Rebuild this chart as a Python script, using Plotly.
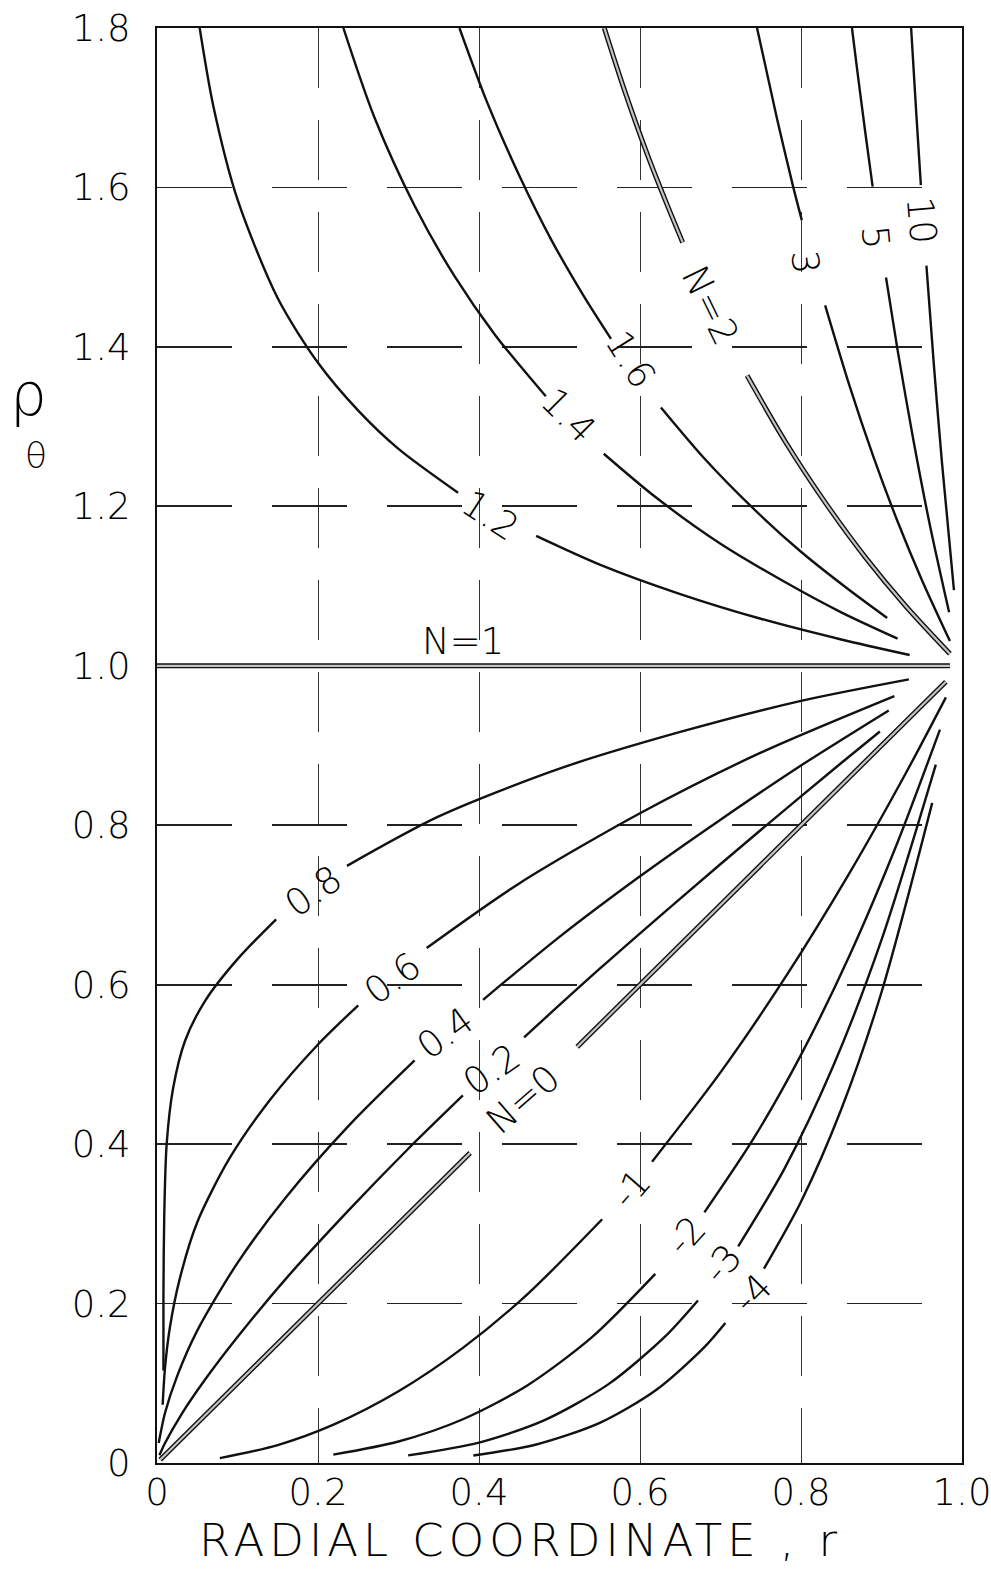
import plotly.graph_objects as go

# ---------------- axes ----------------
X_TICKS = [0, 0.2, 0.4, 0.6, 0.8, 1.0]
X_TICK_TEXT = ["0", "0.2", "0.4", "0.6", "0.8", "1.0"]
Y_TICKS = [0, 0.2, 0.4, 0.6, 0.8, 1.0, 1.2, 1.4, 1.6, 1.8]
Y_TICK_TEXT = ["0", "0.2", "0.4", "0.6", "0.8", "1.0", "1.2", "1.4", "1.6", "1.8"]
X_TITLE = "RADIAL COORDINATE , r"
Y_TITLE_MAIN = "ρ"
Y_TITLE_SUB = "θ"

# ---------------- curves (r, rho_theta), None = break for label ----------------
R_N10 = [0.9368, 0.943, 0.9489, None, 0.9558, 0.965, 0.975, 0.990]
P_N10 = [1.800, 1.696, 1.603, None, 1.502, 1.378, 1.256, 1.095]

R_N5 = [0.8633, 0.870, 0.880, 0.889, None, 0.9056, 0.920, 0.940, 0.960, 0.984]
P_N5 = [1.800, 1.746, 1.668, 1.601, None, 1.487, 1.396, 1.281, 1.177, 1.067]

R_N3 = [0.7454, 0.770, 0.790, 0.801, None, 0.830, 0.860, 0.890, 0.920, 0.950, 0.985]
P_N3 = [1.800, 1.687, 1.602, 1.559, None, 1.452, 1.352, 1.262, 1.181, 1.108, 1.031]

R_N2 = [0.5556, 0.580, 0.610, 0.635, 0.653, None, 0.733, 0.780, 0.830, 0.880, 0.930, 0.985]
P_N2 = [1.800, 1.724, 1.639, 1.575, 1.531, None, 1.364, 1.282, 1.205, 1.136, 1.075, 1.015]

R_N16 = [0.3757, 0.410, 0.450, 0.490, 0.530, 0.564, None, 0.626, 0.680, 0.740, 0.800, 0.860, 0.907]
P_N16 = [1.800, 1.707, 1.615, 1.534, 1.464, 1.410, None, 1.324, 1.260, 1.198, 1.143, 1.095, 1.060]

R_N14 = [0.2315, 0.270, 0.320, 0.370, 0.420, 0.483, None, 0.555, 0.620, 0.700, 0.780, 0.850, 0.920]
P_N14 = [1.800, 1.688, 1.577, 1.488, 1.415, 1.338, None, 1.266, 1.211, 1.153, 1.105, 1.067, 1.034]

R_N12 = [0.053, 0.070, 0.100, 0.150, 0.200, 0.250, 0.300, 0.374, None, 0.471, 0.550, 0.650, 0.750, 0.850, 0.935]
P_N12 = [1.800, 1.702, 1.585, 1.461, 1.380, 1.320, 1.272, 1.217, None, 1.163, 1.127, 1.090, 1.059, 1.033, 1.0135]

R_N1 = [0.0, 0.985]
P_N1 = [1.0, 1.0]

R_N08 = [0.008, 0.008, 0.009, 0.012, 0.020, 0.035, 0.060, 0.100, 0.148, None, 0.236, 0.350, 0.500, 0.650, 0.800, 0.934]
P_N08 = [0.116, 0.210, 0.310, 0.400, 0.470, 0.530, 0.580, 0.632, 0.682, None, 0.749, 0.811, 0.871, 0.917, 0.956, 0.983]

R_N06 = [0.007, 0.010, 0.016, 0.028, 0.050, 0.090, 0.140, 0.200, 0.250, None, 0.335, 0.450, 0.600, 0.750, 0.916]
P_N06 = [0.073, 0.120, 0.170, 0.230, 0.302, 0.382, 0.455, 0.525, 0.574, None, 0.646, 0.727, 0.815, 0.891, 0.962]

R_N04 = [0.0021, 0.010, 0.025, 0.050, 0.100, 0.160, 0.240, 0.320, None, 0.405, 0.500, 0.600, 0.700, 0.800, 0.909]
P_N04 = [0.025, 0.063, 0.109, 0.166, 0.251, 0.333, 0.425, 0.505, None, 0.581, 0.660, 0.736, 0.807, 0.875, 0.944]

R_N02 = [0.003, 0.010, 0.030, 0.060, 0.100, 0.160, 0.240, 0.310, 0.380, None, 0.456, 0.550, 0.650, 0.750, 0.850, 0.898]
P_N02 = [0.0096, 0.025, 0.0605, 0.105, 0.158, 0.231, 0.319, 0.392, 0.461, None, 0.534, 0.620, 0.708, 0.794, 0.878, 0.9175]

R_N0 = [0.004, 0.389, None, 0.522, 0.980]
P_N0 = [0.004, 0.389, None, 0.522, 0.980]

R_Nm1 = [0.078, 0.150, 0.220, 0.300, 0.380, 0.460, 0.553, None, 0.615, 0.700, 0.780, 0.860, 0.930, 0.980]
P_Nm1 = [0.0061, 0.0225, 0.0484, 0.090, 0.1444, 0.2116, 0.3058, None, 0.378, 0.490, 0.6084, 0.7396, 0.8649, 0.9604]

R_Nm2 = [0.219, 0.300, 0.380, 0.460, 0.540, 0.619, None, 0.680, 0.740, 0.800, 0.860, 0.920, 0.9726]
P_Nm2 = [0.0105, 0.027, 0.0549, 0.0973, 0.1575, 0.2372, None, 0.3144, 0.4052, 0.512, 0.636, 0.7787, 0.920]

R_Nm3 = [0.312, 0.400, 0.480, 0.560, 0.630, 0.672, None, 0.722, 0.780, 0.840, 0.900, 0.9675]
P_Nm3 = [0.0095, 0.0256, 0.0531, 0.0983, 0.1575, 0.2039, None, 0.2717, 0.3702, 0.4979, 0.6561, 0.876]

R_Nm4 = [0.393, 0.470, 0.550, 0.620, 0.680, 0.706, None, 0.754, 0.800, 0.850, 0.900, 0.963]
P_Nm4 = [0.0094, 0.0229, 0.0503, 0.0916, 0.1454, 0.1757, None, 0.2437, 0.3277, 0.4437, 0.5905, 0.828]

# ---------------- curve labels ----------------
LABEL_TEXT = ["1.2", "1.4", "1.6", "N=2", "3", "5", "10", "N=1",
              "0.8", "0.6", "0.4", "0.2", "N=0", "-1", "-2", "-3", "-4"]
LABEL_R = [0.414, 0.511, 0.588, 0.687, 0.805, 0.892, 0.949, 0.380,
           0.194, 0.293, 0.358, 0.416, 0.455, 0.590, 0.658, 0.703, 0.740]
LABEL_RHO = [1.189, 1.314, 1.384, 1.452, 1.506, 1.537, 1.558, 1.030,
             0.717, 0.608, 0.539, 0.494, 0.456, 0.344, 0.285, 0.250, 0.213]
LABEL_ANGLE = [33, 45, 58, 64, 85, 85, 85, 0,
               -35, -36, -36, -35, -41, -49, -48, -50, -45]

# ---------------- styling ----------------
INK = "#111111"
FONT = "DejaVu Sans"

THIN = [(R_N10, P_N10), (R_N5, P_N5), (R_N3, P_N3), (R_N16, P_N16), (R_N14, P_N14),
        (R_N12, P_N12), (R_N08, P_N08), (R_N06, P_N06), (R_N04, P_N04), (R_N02, P_N02),
        (R_Nm1, P_Nm1), (R_Nm2, P_Nm2), (R_Nm3, P_Nm3), (R_Nm4, P_Nm4)]
DOUBLE = [(R_N2, P_N2), (R_N1, P_N1), (R_N0, P_N0)]

fig = go.Figure()

for r, p in THIN:
    fig.add_trace(go.Scatter(x=r, y=p, mode="lines", connectgaps=False,
                             line=dict(color=INK, width=2.4, shape="spline", smoothing=0.8),
                             hoverinfo="skip", showlegend=False))

for r, p in DOUBLE:
    fig.add_trace(go.Scatter(x=r, y=p, mode="lines", connectgaps=False,
                             line=dict(color=INK, width=5, shape="spline", smoothing=0.8),
                             hoverinfo="skip", showlegend=False))
    fig.add_trace(go.Scatter(x=r, y=p, mode="lines", connectgaps=False,
                             line=dict(color="#c4c4c4", width=2.2, shape="spline", smoothing=0.8),
                             hoverinfo="skip", showlegend=False))

LABEL_FONT = dict(family=FONT, size=37, color="#000000", weight=300)

annotations = []
for t, x, y, a in zip(LABEL_TEXT, LABEL_R, LABEL_RHO, LABEL_ANGLE):
    annotations.append(dict(x=x, y=y, xref="x", yref="y", text=t, showarrow=False,
                            textangle=a, font=LABEL_FONT))

# axis titles (paper coordinates so they may sit outside the plot area)
annotations.append(dict(x=0.451, y=-0.054, xref="paper", yref="paper",
                        text='<span style="letter-spacing:5px">' + X_TITLE + '</span>',
                        showarrow=False, xanchor="center", yanchor="middle",
                        font=dict(family=FONT, size=45, color="#000000", weight=300)))
annotations.append(dict(x=-0.160, y=0.7195, xref="paper", yref="paper", text=Y_TITLE_MAIN,
                        showarrow=False, xanchor="center", yanchor="bottom",
                        font=dict(family=FONT, size=58, color="#000000", weight=300)))
annotations.append(dict(x=-0.150, y=0.7175, xref="paper", yref="paper", text=Y_TITLE_SUB,
                        showarrow=False, xanchor="center", yanchor="top",
                        font=dict(family=FONT, size=36, color="#000000", weight=300)))

fig.update_layout(
    width=991, height=1579,
    margin=dict(l=157, r=29, t=28, b=116, autoexpand=False),
    paper_bgcolor="white", plot_bgcolor="white",
    annotations=annotations,
    showlegend=False,
)
TICK_FONT = dict(family=FONT, size=37, color="#000000", weight=300)
fig.update_xaxes(range=[0, 1.0], tickvals=X_TICKS, ticktext=X_TICK_TEXT,
                 showline=True, linecolor=INK, linewidth=2, mirror=True,
                 showgrid=True, gridcolor="#333333", gridwidth=1, griddash="60px,32px",
                 zeroline=False, ticks="", ticklen=0, ticklabelstandoff=-4,
                 ticklabeloverflow="allow", automargin=False,
                 tickfont=TICK_FONT)
fig.update_yaxes(range=[0, 1.8], tickvals=Y_TICKS, ticktext=Y_TICK_TEXT,
                 showline=True, linecolor=INK, linewidth=2, mirror=True,
                 showgrid=True, gridcolor="#222222", gridwidth=1.8, griddash="75px,40px",
                 zeroline=False, ticks="", ticklen=0, ticklabelstandoff=17,
                 ticklabeloverflow="allow", automargin=False,
                 tickfont=TICK_FONT)

fig.write_html("out.html", config={"displayModeBar": False, "staticPlot": True},
               post_script="document.body.style.margin='0px';document.body.style.overflow='hidden';")
